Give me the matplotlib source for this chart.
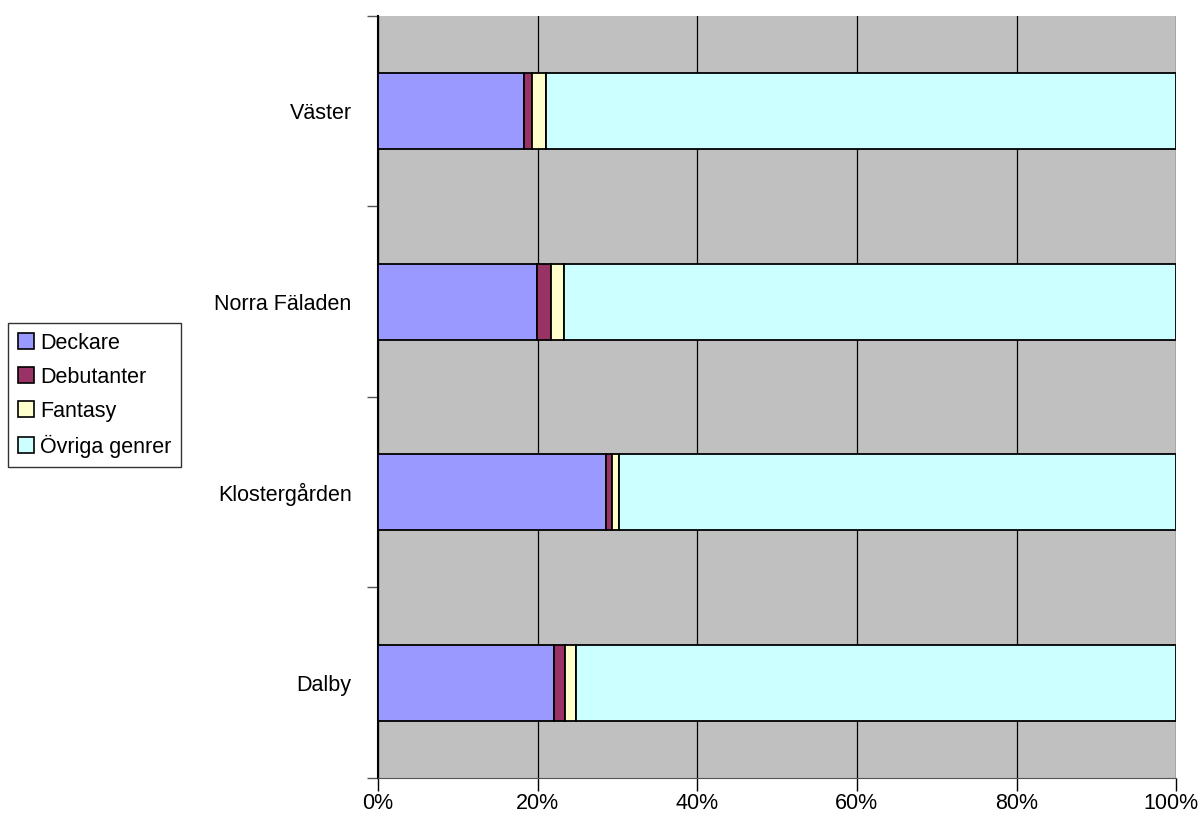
import numpy as np
import matplotlib.pyplot as plt
from matplotlib.ticker import FixedLocator, FuncFormatter

plt.rcParams['font.family'] = ['Liberation Sans', 'DejaVu Sans']

# branches, bottom to top
branches = ['Dalby', 'Klostergården', 'Norra Fäladen', 'Väster']
genres = ['Deckare', 'Debutanter', 'Fantasy', 'Övriga genrer']
colors = ['#9999FF', '#993366', '#FFFFCC', '#CCFFFF']

# share in percent
deckare = [22.1, 28.6, 19.9, 18.35]
debutanter = [1.3, 0.75, 1.8, 0.95]
fantasy = [1.45, 0.9, 1.65, 1.75]
ovriga = [100 - a - b - c for a, b, c in zip(deckare, debutanter, fantasy)]
series = [deckare, debutanter, fantasy, ovriga]

fig = plt.figure(figsize=(12.02, 8.25), dpi=100)
ax = fig.add_axes([0.3145, 0.057, 0.664, 0.9236])
ax.set_facecolor('#C0C0C0')

y = np.arange(len(branches))
left = np.zeros(len(branches))
for name, vals, col in zip(genres, series, colors):
    ax.barh(y, vals, left=left, height=0.4, color=col, edgecolor='black',
            linewidth=1.3, label=name, zorder=3)
    left += np.array(vals)

ax.set_xlim(0, 100)
ax.set_ylim(-0.5, len(branches) - 0.5)
ax.xaxis.set_major_locator(FixedLocator([0, 20, 40, 60, 80, 100]))
# the last label is placed by hand below so it stays inside the picture
ax.xaxis.set_major_formatter(FuncFormatter(lambda v, p: '' if v >= 100 else '%d%%' % v))
ax.grid(axis='x', color='black', linewidth=0.9, zorder=1)
ax.annotate('100%', xy=(100, 0), xycoords=('data', 'axes fraction'),
            xytext=(-4, -10.8), textcoords='offset points',
            ha='center', va='top', fontsize=15.5, annotation_clip=False)

ax.set_yticks(np.arange(len(branches) + 1) - 0.5)
ax.set_yticklabels([])
ax.set_yticks(y, minor=True)
ax.set_yticklabels(branches, minor=True)
ax.tick_params(axis='y', which='minor', length=0, pad=19, labelsize=15.5)
ax.tick_params(axis='y', which='major', length=8, width=1, color='#555555')
ax.tick_params(axis='x', length=9, width=1, pad=2, labelsize=15.5)

for s in ['top', 'right']:
    ax.spines[s].set_visible(False)
ax.spines['left'].set_linewidth(1.5)
ax.spines['bottom'].set_color('#555555')

leg = fig.legend(loc='center left', bbox_to_anchor=(0.0066, 0.521), fontsize=15.5,
                 frameon=True, fancybox=False, edgecolor='black',
                 handlelength=0.75, handleheight=0.75, handletextpad=0.3,
                 labelspacing=0.6, borderpad=0.45, borderaxespad=0)
leg.get_frame().set_linewidth(1)
for h in leg.legend_handles:
    h.set_linewidth(1.2)

fig.savefig('out.png', dpi=100)
